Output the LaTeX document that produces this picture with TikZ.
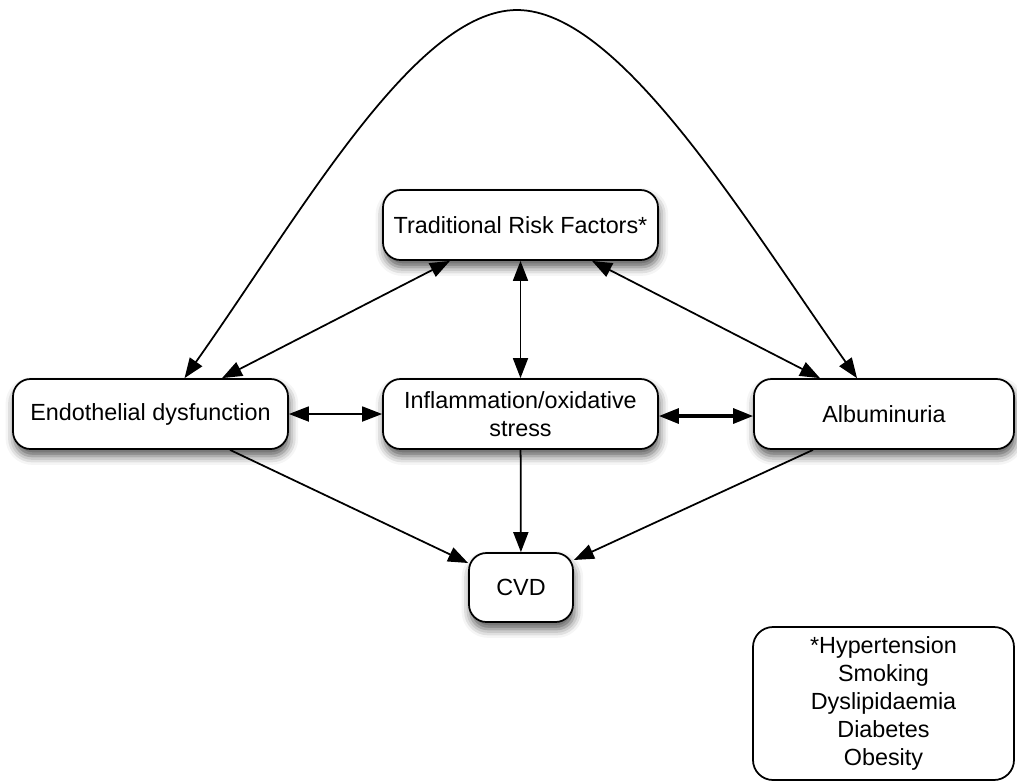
\documentclass[tikz,border=0pt]{standalone}
\usepackage{fontspec}
\setmainfont{Liberation Sans}
\usepackage{tikz}
\usetikzlibrary{positioning, arrows.meta, shadows.blur}

\begin{document}
\begin{tikzpicture}[
		% GLOBAL CFG
		font=\fontsize{13.3pt}{16pt}\selectfont,
		>={Triangle[length=4mm,width=3mm]},
		% Styles
		factor/.style={% For the main boxes
			rectangle,
			rounded corners=3.5mm,
			draw,
			fill=white,
			line width=1pt,
			align=center,
			minimum height=1.4cm,
			inner sep=2pt,
			blur shadow={shadow xshift=0.8pt, shadow yshift=-4pt, shadow blur radius=5pt, shadow opacity=65},
		},
		notebox/.style={% For the footnote box
			rectangle,
			rounded corners=4mm,
			draw,
			fill=white,
			line width=1pt,
			align=center,
		},
		link/.style={% Plain connectors
			line width=1pt,
		},
		]
		% Fix the frame
		\useasboundingbox (0,0) rectangle (20.34,-15.66);

		% Draw the boxes
		\node [factor, minimum width=5.5cm] (trad) at (10.41,-4.5) {Traditional Risk Factors*};
		\node [factor, minimum width=5.5cm] (endo) at (3.01,-8.28) {Endothelial dysfunction};
		\node [factor, minimum width=5.5cm] (infl) at (10.41,-8.28) {Inflammation/oxidative\\stress};
		\node [factor, minimum width=5.2cm] (albu) at (17.68,-8.28) {Albuminuria};
		\node [factor, minimum width=2.08cm, minimum height=1.38cm] (cvd) at (10.42,-11.75) {CVD};

		% Draw the footnote
		\node [notebox, minimum width=5.22cm, minimum height=3.06cm] (note) at (17.67,-14.07)
			{*Hypertension\\Smoking\\Dyslipidaemia\\Diabetes\\Obesity};

		% Connecting all
		\draw [link, <->] ([xshift=0.68cm]endo.north) .. controls (6.0,-4.3) and (8.3,-0.2) .. (10.34,-0.2)
			.. controls (12.38,-0.2) and (14.84,-4.3) .. ([xshift=-0.54cm]albu.north);
		\draw [link, <->] ([xshift=1.43cm]endo.north) -- ([xshift=-1.41cm]trad.south);
		\draw [link, <->] ([xshift=1.43cm]trad.south) -- ([xshift=-1.28cm]albu.north);
		\draw [link, <->] (trad) -- (infl);
		\draw [link, <->] (endo) -- (infl);
		\draw [link, <->, line width=1.8pt] ([yshift=-0.04cm]infl.east) -- ([yshift=-0.04cm]albu.west);

		% Into CVD
		\draw [link, ->] ([xshift=1.59cm]endo.south) -- ([yshift=0.49cm]cvd.west);
		\draw [link, ->] (infl) -- (cvd);
		\draw [link, ->] ([xshift=-1.42cm]albu.south) -- ([yshift=0.55cm]cvd.east);

	\end{tikzpicture}
\end{document}
